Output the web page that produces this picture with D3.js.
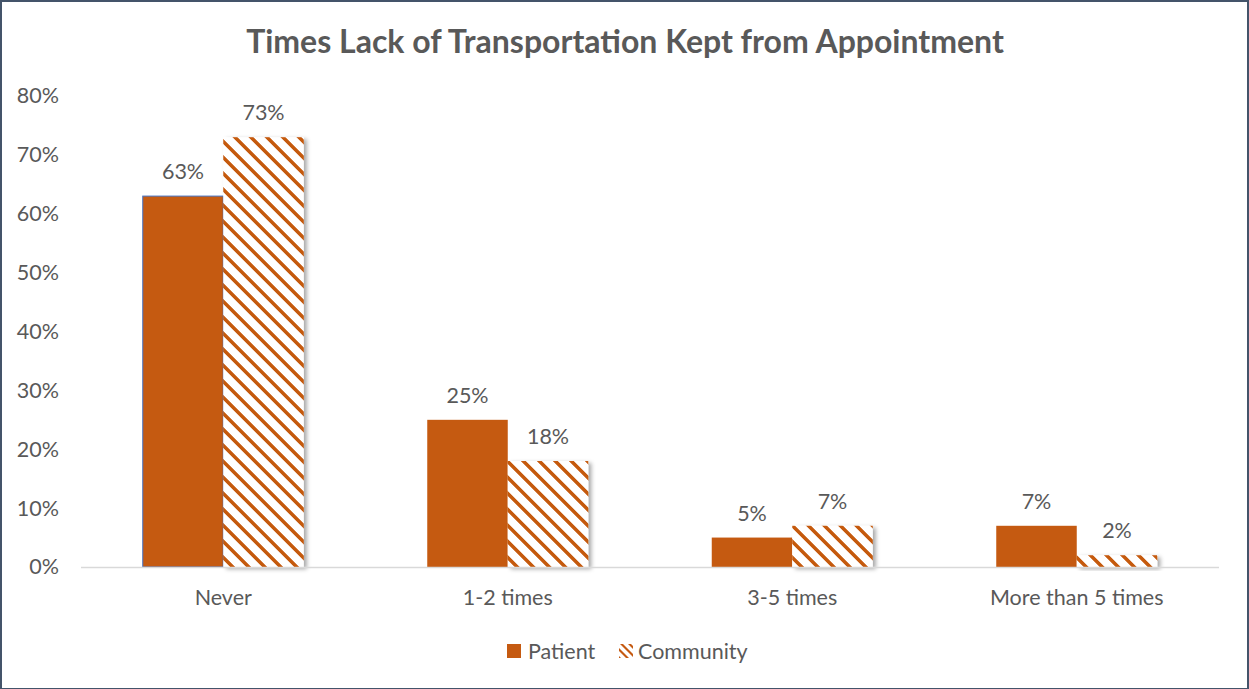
<!DOCTYPE html>
<html>
<head>
<meta charset="utf-8">
<script src="https://cdn.jsdelivr.net/npm/d3@7"></script>
<style>
  html, body { margin: 0; padding: 0; background: #fff; }
  svg { display: block; }
  text { font-family: Lato, "Open Sans", sans-serif; fill: #595959; }
</style>
</head>
<body>
<svg id="chart" width="1249" height="689"></svg>
<script>
// Chart data
const categories = ["Never", "1-2 times", "3-5 times", "More than 5 times"];
const seriesNames = ["Patient", "Community"];
const patient = [63, 25, 5, 7];
const community = [73, 18, 7, 2];
const yTicks = [0, 10, 20, 30, 40, 50, 60, 70, 80];
const chartTitle = "Times Lack of Transportation Kept from Appointment";

const W = 1249, H = 689;
const orange = "#C55A11";
const fontFamily = "Lato, 'Open Sans', sans-serif";
const bodySize = "21.5px";
const svg = d3.select("#chart");

const plot = { left: 81, right: 1219, top: 96, bottom: 567 };

const defs = svg.append("defs");

// Wide downward diagonal hatch
const pat = defs.append("pattern")
  .attr("id", "hatch")
  .attr("patternUnits", "userSpaceOnUse")
  .attr("width", 16).attr("height", 16);
pat.append("rect").attr("width", 16).attr("height", 16).attr("fill", "#fff");
pat.append("polygon").attr("points", "0,0 5,0 16,11 16,16").attr("fill", orange)
  .attr("shape-rendering", "crispEdges");
pat.append("polygon").attr("points", "0,11 5,16 0,16").attr("fill", orange)
  .attr("shape-rendering", "crispEdges");

// Legend-sized hatch
const pat2 = defs.append("pattern")
  .attr("id", "hatchSmall")
  .attr("patternUnits", "userSpaceOnUse")
  .attr("width", 8).attr("height", 8);
pat2.append("rect").attr("width", 8).attr("height", 8).attr("fill", "#fff");
pat2.append("polygon").attr("points", "0,0 3,0 8,5 8,8").attr("fill", orange);
pat2.append("polygon").attr("points", "0,5 3,8 0,8").attr("fill", orange);

// Soft shadow for hatched bars
const sh = defs.append("filter").attr("id", "shadow")
  .attr("x", "-20%").attr("y", "-20%").attr("width", "150%").attr("height", "150%");
sh.append("feDropShadow").attr("dx", 3).attr("dy", 2).attr("stdDeviation", 2)
  .attr("flood-color", "#000").attr("flood-opacity", 0.35);

// Scales
const x0 = d3.scaleBand().domain(categories).range([plot.left, plot.right]);
const groupW = 161;
const x1 = d3.scaleBand().domain(seriesNames).range([0, groupW]);
const y = d3.scaleLinear().domain([0, 80]).range([plot.bottom, plot.top]);

// Title
svg.append("text")
  .attr("x", 625).attr("y", 53)
  .attr("text-anchor", "middle")
  .style("font-size", "32px").style("font-weight", "bold")
  .text(chartTitle);

// Y axis labels
const yAxis = d3.axisLeft(y).tickValues(yTicks).tickFormat(d => d + "%").tickSize(0).tickPadding(0);
const yg = svg.append("g").attr("transform", `translate(59,0)`).call(yAxis);
yg.select(".domain").remove();
yg.selectAll("text").style("font-size", bodySize).attr("fill", "#595959")
  .style("font-family", fontFamily);

// Bars
const data = categories.map((c, i) => ({ cat: c, vals: [patient[i], community[i]] }));
const groups = svg.append("g").selectAll("g").data(data).join("g")
  .attr("transform", d => `translate(${x0(d.cat) + (x0.bandwidth() - groupW) / 2},0)`);

groups.append("rect")
  .attr("x", x1("Patient")).attr("width", x1.bandwidth())
  .attr("y", d => y(d.vals[0])).attr("height", d => y(0) - y(d.vals[0]))
  .attr("fill", orange)
  .attr("stroke", (d, i) => i === 0 ? "#4472C4" : "none")
  .attr("stroke-width", 1);

groups.append("rect")
  .attr("x", x1("Community")).attr("width", x1.bandwidth())
  .attr("y", d => y(d.vals[1])).attr("height", d => y(0) - y(d.vals[1]))
  .attr("fill", "url(#hatch)")
  .attr("filter", "url(#shadow)");

// Value labels
groups.selectAll("text.val").data(d => d.vals).join("text")
  .attr("class", "val")
  .attr("x", (v, j) => x1(seriesNames[j]) + x1.bandwidth() / 2)
  .attr("y", v => y(v) - 17)
  .attr("text-anchor", "middle")
  .style("font-size", bodySize)
  .text(v => v + "%");

// X axis
svg.append("line")
  .attr("x1", plot.left).attr("x2", plot.right)
  .attr("y1", plot.bottom + 0.5).attr("y2", plot.bottom + 0.5)
  .attr("stroke", "#D9D9D9").attr("stroke-width", 1.5);

const xAxis = d3.axisBottom(x0).tickSize(0).tickPadding(0);
const xg = svg.append("g").attr("transform", `translate(0,${plot.bottom + 38})`).call(xAxis);
xg.select(".domain").remove();
xg.selectAll("text").style("font-size", bodySize).attr("fill", "#595959")
  .style("font-family", fontFamily)
  .attr("y", 0).attr("dy", 0);

// Legend
const lg = svg.append("g");
lg.append("rect").attr("x", 507).attr("y", 644).attr("width", 14).attr("height", 14).attr("fill", orange);
lg.append("text").attr("x", 528).attr("y", 659).style("font-size", bodySize).text(seriesNames[0]);
lg.append("rect").attr("x", 619).attr("y", 644).attr("width", 14).attr("height", 14).attr("fill", "url(#hatchSmall)");
lg.append("text").attr("x", 638).attr("y", 659).style("font-size", bodySize).text(seriesNames[1]);

// Outer frame
svg.append("rect").attr("x", 1).attr("y", 1).attr("width", W - 2).attr("height", H - 1)
  .attr("fill", "none").attr("stroke", "#44546A").attr("stroke-width", 2);
</script>
</body>
</html>
